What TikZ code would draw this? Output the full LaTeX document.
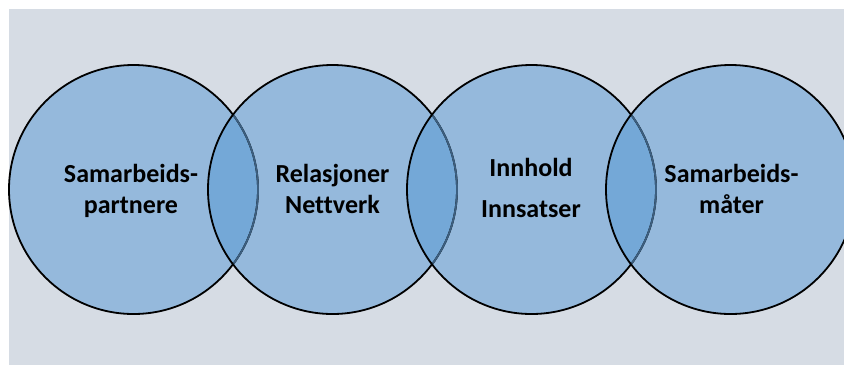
\documentclass[tikz,border=0pt]{standalone}
\usepackage{fontspec}
\setmainfont[Ligatures=NoCommon]{Carlito}
\definecolor{bgc}{HTML}{D6DCE4}
\definecolor{circc}{HTML}{95B9DC}
\definecolor{lensc}{HTML}{74A8D7}
\definecolor{hidl}{HTML}{3C5F80}
\begin{document}
\begin{tikzpicture}[x=1pt,y=-1pt,
  lbl/.style={anchor=base,inner sep=0pt,font=\fontsize{26}{31}\selectfont\bfseries}]
\useasboundingbox (0,0) rectangle (844,365);
\clip (0,0) rectangle (844,365);
\fill[bgc] (9,9) rectangle (844,365);
\def\R{124.5}
\coordinate (c1) at (133.5,189.5);
\coordinate (c2) at (332.5,189.5);
\coordinate (c3) at (531.5,189.5);
\coordinate (c4) at (730.5,189.5);
% fills
\foreach \c in {c1,c2,c3,c4} \fill[circc] (\c) circle (\R);
% lenses
\foreach \a/\b in {c1/c2,c2/c3,c3/c4}{
  \begin{scope}
    \clip (\a) circle (\R);
    \fill[lensc] (\b) circle (\R);
  \end{scope}
}
% outlines
\foreach \c in {c1,c2,c3,c4} \draw[line width=1.8pt] (\c) circle (\R);
\foreach \a/\b in {c1/c2,c2/c3,c3/c4}{
  \begin{scope}
    \clip (\b) circle (\R-1);
    \draw[hidl,line width=1.8pt] (\a) circle (\R);
  \end{scope}
}
% labels
\node[lbl] (t1a) at (131,182) {Samarbeids-};
\node[lbl] (t1b) at (131,213) {partnere};
\node[lbl] (t2a) at (332.5,182) {Relasjoner};
\node[lbl] (t2b) at (332.5,213) {Nettverk};
\node[lbl] (t3a) at (531,176) {Innhold};
\node[lbl] (t3b) at (531,217) {Innsatser};
\node[lbl] (t4a) at (731.5,182) {Samarbeids-};
\node[lbl] (t4b) at (731.5,213) {måter};
\end{tikzpicture}
\end{document}
